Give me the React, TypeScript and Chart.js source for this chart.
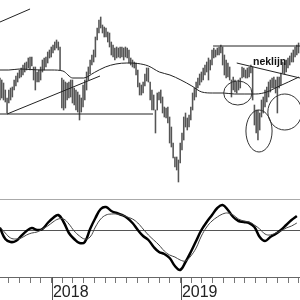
import React, { useEffect, useRef } from "react";
import { Chart, registerables } from "chart.js";
Chart.register(...registerables);

// x values are days relative to 1 Jan 2018
const X_MIN = -147;
const X_MAX = 702;

// price bars (regular bar calendar)
const BAR_START = -147;
const BAR_STEP = 5;
const barHigh = [
  122, 120, 117, 110, 102, 110, 112, 113, 120, 124, 127, 130, 132, 135, 137, 138, 142, 143, 143, 133,
  133, 128, 130, 133, 140, 142, 143, 148, 150, 153, 155, 158, 160, 158, 153, 122, 120, 118, 117, 118,
  120, 120, 112, 110, 108, 105, 102, 115, 120, 128, 133, 140, 145, 150, 163, 172, 180, 183, 175, 173,
  172, 168, 167, 158, 155, 152, 153, 152, 153, 153, 152, 153, 152, 150, 142, 140, 138, 137, 130, 117,
  115, 118, 126, 132, 132, 118, 110, 105, 90, 107, 108, 110, 103, 93, 92, 93, 83, 73, 57, 43,
  43, 40, 57, 67, 83, 87, 82, 85, 93, 107, 112, 118, 122, 126, 128, 132, 135, 138, 142, 140,
  150, 152, 150, 152, 153, 155, 153, 145, 140, 137, 133, 120, 123, 120, 118, 120, 122, 133, 132, 130,
  132, 133, 135, 133, 95, 90, 90, 87, 100, 103, 110, 113, 118, 120, 122, 123, 120, 123, 123, 127,
  138, 137, 140, 142, 144, 147, 150, 153, 155, 157,
];
const barLow = [
  100, 102, 100, 98, 87, 97, 100, 103, 110, 114, 118, 122, 123, 125, 128, 130, 132, 130, 134, 120,
  110, 118, 118, 120, 128, 130, 133, 137, 142, 143, 147, 150, 152, 150, 130, 92, 90, 92, 100, 102,
  103, 97, 95, 90, 88, 80, 88, 93, 100, 110, 120, 126, 135, 138, 143, 160, 167, 172, 167, 163,
  163, 158, 153, 145, 143, 140, 142, 143, 142, 143, 140, 143, 142, 137, 135, 133, 132, 125, 113, 105,
  105, 107, 114, 119, 118, 100, 90, 90, 67, 90, 100, 97, 87, 83, 82, 77, 57, 53, 42, 33,
  30, 18, 37, 50, 60, 73, 70, 73, 80, 90, 100, 103, 112, 115, 118, 120, 125, 128, 120, 130,
  135, 142, 143, 145, 145, 147, 135, 125, 122, 123, 120, 103, 110, 108, 107, 110, 112, 122, 123, 122,
  122, 123, 127, 100, 75, 67, 60, 70, 83, 87, 93, 98, 103, 108, 112, 112, 107, 87, 112, 115,
  127, 126, 128, 132, 135, 138, 138, 143, 145, 147,
];

// moving average, read at month starts
const maDays = [-153, -122, -92, -61, -31, 0, 31, 59, 90, 120, 151, 181, 212, 243, 273, 304, 334, 365, 396, 424, 455, 485, 516, 546, 577, 608, 638, 669, 699];
const maValues = [130, 130, 131, 130.5, 130, 130, 129, 122, 122, 127.5, 133, 136, 137, 136.5, 134, 128, 125, 120, 114, 108, 107, 107, 106, 106, 106, 108, 113, 118, 123];

// drawn trend lines: [startDay, startPrice, endDay, endPrice]
const trendLines = [
  [-147, 178, -62, 191],
  [-127, 86, 136, 124],
  [-147, 86, 286, 86],
  [456, 154, 702, 154],
  [523, 137, 702, 122],
];
// ellipses: [centerDay, centerPrice, radiusDays, radiusPrice]
const circles = [
  [526, 107, 40, 12],
  [586, 69, 37, 21],
  [659, 88, 48, 18],
];
const neckLabel = "neklijn";
const neckLabelDay = 569;
const neckLabelPrice = 135;

// oscillator
const OSC_START = -147;
const OSC_STEP = 15;
const oscFast = [2, -9, -12, -11, -6, -1, 2, 0, 1, 7, 12, 15, 8, -3, -9, -13, -12, 1, 12, 21, 23, 19, 17, 15, 12, 7, 0, -6, -10, -17, -22, -24, -28, -36, -40, -32, -22, -11, 0, 8, 15, 22, 25, 20, 13, 9, 8, 7, 3, -7, -11, -7, -4, 0, 5, 10, 14];
const oscSlow = [3, -3, -8, -9, -8, -5, -3, -2, 1, 4, 8, 11, 11, 6, -1, -6, -9, -7, 3, 11, 15, 16, 16, 15, 13, 11, 7, 1, -5, -10, -15, -21, -25, -27, -30, -31, -26, -18, -6, 3, 9, 13, 16, 17, 15, 11, 9, 8, 5, 1, -4, -5, -3, -1, 2, 4, 7];
const OSC_MIN = -47;
const OSC_MAX = 31;

const monthDays = [-122, -92, -61, -31, 0, 31, 59, 90, 120, 151, 181, 212, 243, 273, 304, 334, 365, 396, 424, 455, 485, 516, 546, 577, 608, 638, 669, 699];
const yearDays = [0, 365];
const yearLabels = ["2018", "2019"];

const FONT = '"Liberation Sans", Arial, sans-serif';

export default function App() {
  const topRef = useRef<HTMLCanvasElement>(null);
  const botRef = useRef<HTMLCanvasElement>(null);

  useEffect(() => {
    const annotate = {
      id: "annotate",
      afterDatasetsDraw(chart: any) {
        const { ctx } = chart;
        const x = chart.scales.x;
        const y = chart.scales.y;
        ctx.save();
        ctx.strokeStyle = "#333";
        ctx.lineWidth = 1;
        circles.forEach(([d, p, rd, rp]) => {
          const cx = x.getPixelForValue(d);
          const cy = y.getPixelForValue(p);
          const rx = Math.abs(x.getPixelForValue(d + rd) - cx);
          const ry = Math.abs(y.getPixelForValue(p + rp) - cy);
          ctx.beginPath();
          ctx.ellipse(cx, cy, rx, ry, 0, 0, Math.PI * 2);
          ctx.stroke();
        });
        ctx.font = "bold 10.5px " + FONT;
        ctx.fillStyle = "#111";
        ctx.textAlign = "left";
        ctx.textBaseline = "alphabetic";
        ctx.fillText(neckLabel, x.getPixelForValue(neckLabelDay), y.getPixelForValue(neckLabelPrice));
        ctx.restore();
      },
    };

    const lineDatasets: any[] = trendLines.map(([d1, p1, d2, p2]) => ({
      type: "line",
      data: [
        { x: d1, y: p1 },
        { x: d2, y: p2 },
      ],
      borderColor: "#222",
      borderWidth: 1,
      pointRadius: 0,
      tension: 0,
      order: 0,
    }));

    const top = new Chart(topRef.current!, {
      type: "bar",
      data: {
        datasets: [
          {
            type: "bar",
            data: barHigh.map((h, i) => ({ x: BAR_START + i * BAR_STEP, y: [barLow[i], h] })),
            backgroundColor: "#555",
            borderWidth: 0,
            barThickness: 0.9,
            order: 2,
          } as any,
          {
            type: "line",
            data: maDays.map((d, i) => ({ x: d, y: maValues[i] })),
            borderColor: "#222",
            borderWidth: 1,
            pointRadius: 0,
            cubicInterpolationMode: "monotone",
            order: 1,
          } as any,
          ...lineDatasets,
        ],
      },
      options: {
        responsive: false,
        animation: false,
        layout: { padding: 0 },
        plugins: { legend: { display: false }, tooltip: { enabled: false } },
        scales: {
          x: { type: "linear", min: X_MIN, max: X_MAX, display: false, offset: false },
          y: { type: "linear", min: 2, max: 200, display: false },
        },
      },
      plugins: [annotate],
    });

    const yearTicks = {
      id: "yearTicks",
      afterDraw(chart: any) {
        const { ctx, chartArea } = chart;
        const x = chart.scales.x;
        ctx.save();
        ctx.strokeStyle = "#555";
        ctx.lineWidth = 1;
        yearDays.forEach((d) => {
          const px = Math.round(x.getPixelForValue(d)) + 0.5;
          ctx.beginPath();
          ctx.moveTo(px, chartArea.bottom);
          ctx.lineTo(px, chart.height);
          ctx.stroke();
        });
        ctx.restore();
      },
    };

    const bottom = new Chart(botRef.current!, {
      type: "line",
      data: {
        datasets: [
          {
            data: oscSlow.map((v, i) => ({ x: OSC_START + i * OSC_STEP, y: v })),
            borderColor: "#444",
            borderWidth: 1,
            pointRadius: 0,
            tension: 0.4,
          },
          {
            data: oscFast.map((v, i) => ({ x: OSC_START + i * OSC_STEP, y: v })),
            borderColor: "#000",
            borderWidth: 2.5,
            pointRadius: 0,
            tension: 0.4,
          },
        ],
      },
      options: {
        responsive: false,
        animation: false,
        layout: { padding: { top: 1, left: 0, right: 0, bottom: 0 } },
        plugins: { legend: { display: false }, tooltip: { enabled: false } },
        scales: {
          x: {
            type: "linear",
            min: X_MIN,
            max: X_MAX,
            offset: false,
            afterBuildTicks: (s: any) => {
              s.ticks = monthDays.map((v) => ({ value: v }));
            },
            afterFit: (s: any) => {
              s.height = 23;
            },
            grid: { drawOnChartArea: false, drawTicks: true, tickLength: 6, color: "#777" },
            border: { display: true, color: "#666" },
            ticks: {
              autoSkip: false,
              maxRotation: 0,
              minRotation: 0,
              align: "start",
              padding: 0,
              labelOffset: 1,
              color: "#222",
              font: { size: 16, family: FONT },
              callback: (v: any) => {
                const idx = yearDays.indexOf(Number(v));
                return idx >= 0 ? yearLabels[idx] : "";
              },
            },
          } as any,
          y: {
            type: "linear",
            min: OSC_MIN,
            max: OSC_MAX,
            afterBuildTicks: (s: any) => {
              s.ticks = [{ value: OSC_MAX }, { value: 0 }];
            },
            afterFit: (s: any) => {
              s.width = 0;
            },
            grid: {
              drawTicks: false,
              color: (c: any) => (c.tick && c.tick.value === 0 ? "#555" : "#aaa"),
            },
            border: { display: false },
            ticks: { display: false },
          } as any,
        },
      },
      plugins: [yearTicks],
    });

    return () => {
      top.destroy();
      bottom.destroy();
    };
  }, []);

  return (
    <div style={{ position: "fixed", left: 0, top: 0, width: 300, height: 300, background: "#fff" }}>
      <canvas ref={topRef} width={300} height={198} style={{ position: "absolute", left: 0, top: 0, width: 300, height: 198 }} />
      <canvas ref={botRef} width={300} height={102} style={{ position: "absolute", left: 0, top: 198, width: 300, height: 102 }} />
    </div>
  );
}
